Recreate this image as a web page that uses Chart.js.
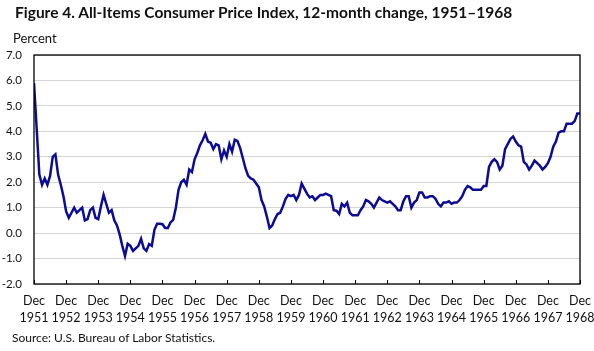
<!DOCTYPE html>
<html>
<head>
<meta charset="utf-8">
<script src="https://cdn.jsdelivr.net/npm/chart.js@4/dist/chart.umd.min.js"></script>
<style>
    body { margin: 0; background: #fff; }
    #wrap { position: relative; width: 594px; height: 351px; font-family: Lato, "Open Sans", sans-serif; color: #111; }
    #cpi-chart { position: absolute; left: 0; top: 0; }
    .title { position: absolute; left: 15px; top: 3px; font-size: 15.5px; font-weight: bold; white-space: nowrap; }
    .unit { position: absolute; left: 13px; top: 30px; font-size: 13px; }
    .source { position: absolute; left: 12px; top: 330px; font-size: 12px; }
</style>
</head>
<body>
<div id="wrap">
    <canvas id="cpi-chart" width="594" height="351"></canvas>
    <div class="title">Figure 4. All-Items Consumer Price Index, 12-month change, 1951–1968</div>
    <div class="unit">Percent</div>
    <div class="source">Source: U.S. Bureau of Labor Statistics.</div>
</div>
<script>
// 12-month percent change, monthly, Dec 1951 .. Dec 1968
const cpiChange = [
    5.9, 4.1, 2.3, 1.9, 2.15, 1.9, 2.25, 3.0, 3.1, 2.3, 1.9, 1.45,
    0.85, 0.6, 0.8, 1.0, 0.8, 0.9, 1.0, 0.5, 0.55, 0.9, 1.0, 0.6,
    0.55, 1.05, 1.5, 1.15, 0.8, 0.9, 0.5, 0.3, -0.05, -0.5, -0.9, -0.42,
    -0.5, -0.7, -0.6, -0.5, -0.22, -0.6, -0.7, -0.43, -0.5, 0.13, 0.37, 0.37,
    0.35, 0.2, 0.2, 0.42, 0.52, 1.0, 1.7, 2.0, 2.1, 1.9, 2.5, 2.4,
    2.9, 3.15, 3.45, 3.65, 3.9, 3.6, 3.55, 3.3, 3.5, 3.45, 2.9, 3.25,
    3.0, 3.5, 3.2, 3.67, 3.62, 3.35, 2.95, 2.55, 2.25, 2.15, 2.1, 1.95,
    1.8, 1.3, 1.05, 0.65, 0.2, 0.3, 0.55, 0.75, 0.8, 1.05, 1.35, 1.5,
    1.45, 1.5, 1.3, 1.5, 1.95, 1.75, 1.55, 1.4, 1.45, 1.3, 1.4, 1.5,
    1.5, 1.55, 1.5, 1.45, 0.9, 0.88, 0.75, 1.15, 1.05, 1.2, 0.8, 0.7,
    0.7, 0.7, 0.9, 1.05, 1.3, 1.25, 1.15, 1.0, 1.2, 1.4, 1.3, 1.25,
    1.2, 1.25, 1.15, 1.05, 0.9, 0.9, 1.25, 1.45, 1.45, 1.0, 1.2, 1.3,
    1.6, 1.6, 1.4, 1.4, 1.45, 1.45, 1.35, 1.15, 1.05, 1.2, 1.2, 1.25,
    1.15, 1.2, 1.2, 1.3, 1.45, 1.7, 1.85, 1.8, 1.7, 1.7, 1.7, 1.7,
    1.85, 1.85, 2.6, 2.8, 2.9, 2.8, 2.5, 2.65, 3.3, 3.5, 3.7, 3.8,
    3.6, 3.45, 3.4, 2.8, 2.7, 2.5, 2.65, 2.85, 2.75, 2.65, 2.5, 2.6,
    2.75, 3.0, 3.4, 3.6, 3.95, 4.0, 4.0, 4.3, 4.3, 4.3, 4.4, 4.7,
    4.7
];

// one label per December tick
const decYears = [
    "1951", "1952", "1953", "1954", "1955", "1956", "1957", "1958", "1959",
    "1960", "1961", "1962", "1963", "1964", "1965", "1966", "1967", "1968"
];

const yMin = -2;
const yMax = 7;
const yStep = 1;

// box around the plot + small inward ticks at each December
const framePlugin = {
    id: 'frame',
    afterDatasetsDraw(chart) {
        const { ctx, chartArea: a, scales } = chart;
        ctx.save();
        ctx.strokeStyle = '#000';
        ctx.lineWidth = 1;
        ctx.beginPath();
        scales.x.ticks.forEach(t => {
            const px = Math.round(scales.x.getPixelForValue(t.value)) + 0.5;
            ctx.moveTo(px, a.bottom);
            ctx.lineTo(px, a.bottom - 4);
        });
        ctx.stroke();
        ctx.lineWidth = 1.3;
        ctx.strokeRect(a.left, a.top, a.right - a.left, a.bottom - a.top);
        ctx.restore();
    }
};

const ctx = document.getElementById("cpi-chart");

new Chart(ctx, {
    type: 'line',
    data: {
        datasets: [{
            label: '12-month change',
            data: cpiChange.map((v, i) => ({ x: i, y: v })),
            borderColor: '#0b0b96',
            borderWidth: 2.5,
            pointRadius: 0,
            tension: 0,
            fill: false
        }]
    },
    options: {
        responsive: false,
        animation: false,
        devicePixelRatio: 1,
        layout: {
            padding: { top: 55, right: 2, bottom: 0, left: 0 }
        },
        plugins: {
            legend: { display: false },
            tooltip: { enabled: false }
        },
        scales: {
            x: {
                type: 'linear',
                min: 0,
                max: (decYears.length - 1) * 12,
                afterFit: s => { s.height = 67; s.paddingRight = 14; },
                grid: { display: false, drawTicks: false },
                border: { display: false },
                ticks: {
                    stepSize: 12,
                    padding: 9,
                    maxRotation: 0,
                    autoSkip: false,
                    color: '#111',
                    font: { family: 'Lato', size: 12.5, lineHeight: 1.35 },
                    callback: v => ['Dec', decYears[v / 12]]
                }
            },
            y: {
                min: yMin,
                max: yMax,
                afterFit: s => { s.width = 34; },
                grid: { color: '#d4d4d4', lineWidth: 1, drawTicks: false },
                border: { display: false },
                ticks: {
                    stepSize: yStep,
                    padding: 12,
                    color: '#111',
                    font: { family: 'Lato', size: 11.5 },
                    callback: v => v.toFixed(1)
                }
            }
        }
    },
    plugins: [framePlugin]
});
</script>
</body>
</html>
